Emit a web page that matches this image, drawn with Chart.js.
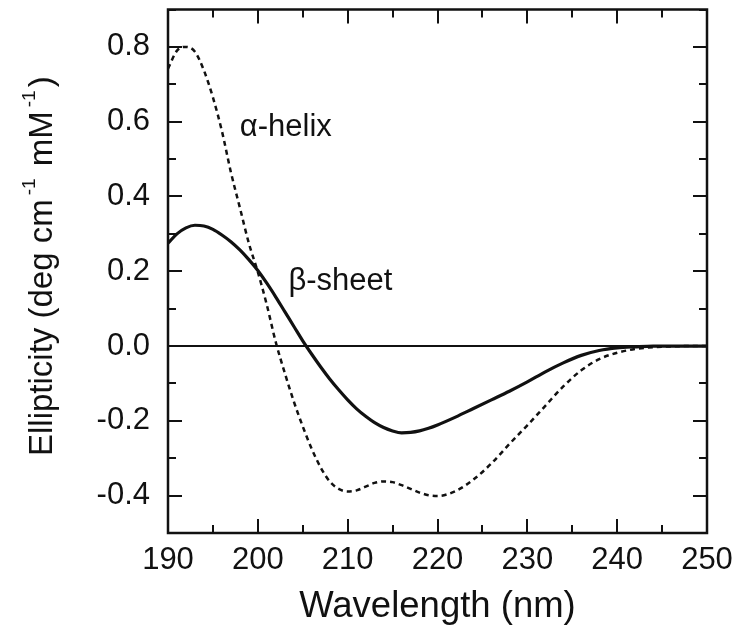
<!DOCTYPE html>
<html><head><meta charset="utf-8">
<script src="https://cdn.jsdelivr.net/npm/chart.js@4/dist/chart.umd.min.js"></script>
<style>html,body{margin:0;padding:0;background:#fff;}#wrap{width:740px;height:635px;position:relative;}</style>
</head><body><div id="wrap"><canvas id="c" width="740" height="635"></canvas></div>
<script>
// ---- data ----
const wavelengths = [190,191,192,193,194,195,196,197,198,199,200,201,202,203,204,205,206,207,208,209,210,
  211,212,213,214,215,216,217,218,219,220,222,224,226,228,230,232,234,236,238,240,242,244,246,248,250];
const alphaHelix = [0.742,0.790,0.800,0.787,0.737,0.665,0.575,0.465,0.370,0.275,0.198,0.110,0.010,-0.072,-0.148,-0.215,-0.275,-0.325,-0.362,-0.382,-0.389,
  -0.386,-0.376,-0.366,-0.362,-0.364,-0.372,-0.382,-0.392,-0.399,-0.401,-0.388,-0.357,-0.314,-0.262,-0.212,-0.160,-0.108,-0.065,-0.035,-0.018,-0.008,-0.003,-0.001,0,0];
const betaSheet = [0.275,0.300,0.316,0.323,0.321,0.312,0.297,0.279,0.257,0.231,0.202,0.168,0.131,0.092,0.053,0.014,-0.022,-0.056,-0.088,-0.117,-0.144,
  -0.168,-0.188,-0.205,-0.218,-0.227,-0.232,-0.231,-0.227,-0.220,-0.211,-0.190,-0.167,-0.144,-0.121,-0.096,-0.069,-0.045,-0.025,-0.012,-0.005,-0.002,0,0,0,0];
const xTickLabels = [190,200,210,220,230,240,250];
const yTickLabels = [-0.4,-0.2,0.0,0.2,0.4,0.6,0.8];
const xMinorTicks = [195,205,215,225,235,245];
const yMinorTicks = [-0.5,-0.3,-0.1,0.1,0.3,0.5,0.7,0.9];
const seriesNames = ['\u03b1-helix','\u03b2-sheet'];
const labelAnchors = [{x:198.0, y:0.563},{x:203.4, y:0.150}];
const xTitle = 'Wavelength (nm)';
const yTitleParts = [{t:'Ellipticity (deg cm'},{t:'-1',sup:true},{t:' mM'},{t:'-1',sup:true},{t:')'}];

// ---- chart ----
const INK = '#111';
const FONT = "'Liberation Sans', Arial, Helvetica, sans-serif";

const decorations = {
  id: 'decorations',
  beforeDatasetsDraw(chart) {
    const {ctx, chartArea: ca, scales: {x, y}} = chart;
    ctx.save();
    ctx.strokeStyle = INK; ctx.lineWidth = 2;
    const y0 = y.getPixelForValue(0);
    ctx.beginPath(); ctx.moveTo(ca.left, y0); ctx.lineTo(ca.right, y0); ctx.stroke();
    ctx.restore();
  },
  afterDatasetsDraw(chart) {
    const {ctx, chartArea: ca, scales: {x, y}} = chart;
    ctx.save();
    ctx.strokeStyle = INK; ctx.lineWidth = 2.5;
    ctx.strokeRect(ca.left, ca.top, ca.right - ca.left, ca.bottom - ca.top);
    ctx.lineWidth = 2;
    ctx.beginPath();
    const xt = xTickLabels.map(v => [v, 14]).concat(xMinorTicks.map(v => [v, 8]));
    xt.forEach(([v, len]) => {
      const px = Math.round(x.getPixelForValue(v));
      ctx.moveTo(px, ca.bottom); ctx.lineTo(px, ca.bottom - len);
      ctx.moveTo(px, ca.top); ctx.lineTo(px, ca.top + len);
    });
    const yt = yTickLabels.map(v => [v, 14]).concat(yMinorTicks.map(v => [v, 8]));
    yt.forEach(([v, len]) => {
      const py = Math.round(y.getPixelForValue(v));
      ctx.moveTo(ca.left, py); ctx.lineTo(ca.left + len, py);
      ctx.moveTo(ca.right, py); ctx.lineTo(ca.right - len, py);
    });
    ctx.stroke();
    // series labels
    ctx.fillStyle = INK;
    ctx.font = '31px ' + FONT;
    ctx.textAlign = 'left'; ctx.textBaseline = 'alphabetic';
    seriesNames.forEach((n, i) => {
      ctx.fillText(n, x.getPixelForValue(labelAnchors[i].x), y.getPixelForValue(labelAnchors[i].y));
    });
    // y title with superscripts
    ctx.translate(52, 456);
    ctx.rotate(-Math.PI / 2);
    let pos = 0;
    yTitleParts.forEach(p => {
      ctx.font = (p.sup ? '19px ' : '33px ') + FONT;
      ctx.fillText(p.t, pos + (p.sup ? 4 : 0), p.sup ? -17 : 0);
      pos += ctx.measureText(p.t).width + (p.sup ? 7 : 0);
    });
    ctx.restore();
  }
};

new Chart(document.getElementById('c'), {
  type: 'line',
  data: {
    datasets: [
      { label: seriesNames[0], data: wavelengths.map((w, i) => ({x: w, y: alphaHelix[i]})),
        borderColor: INK, borderWidth: 2.5, borderDash: [5, 4], pointRadius: 0, cubicInterpolationMode: 'monotone', fill: false },
      { label: seriesNames[1], data: wavelengths.map((w, i) => ({x: w, y: betaSheet[i]})),
        borderColor: INK, borderWidth: 3.2, pointRadius: 0, cubicInterpolationMode: 'monotone', fill: false }
    ]
  },
  options: {
    responsive: false, animation: false, devicePixelRatio: 1,
    layout: { padding: { top: 9.5, right: 33, left: 0, bottom: 0 } },
    plugins: { legend: { display: false }, tooltip: { enabled: false } },
    scales: {
      x: {
        type: 'linear', min: 190, max: 250,
        grid: { display: false, drawTicks: false }, border: { display: false },
        afterBuildTicks: s => { s.ticks = xTickLabels.map(v => ({value: v})); },
        ticks: { autoSkip: false, maxRotation: 0, padding: 9, color: INK,
          font: { family: FONT, size: 31 }, callback: v => String(v) },
        title: { display: true, text: xTitle, color: INK, font: { family: FONT, size: 36.5 }, padding: { top: 0, bottom: 6 } },
        afterFit: s => { s.height = 102; s.paddingLeft = 0; s.paddingRight = 0; }
      },
      y: {
        type: 'linear', min: -0.5, max: 0.9,
        grid: { display: false, drawTicks: false }, border: { display: false },
        afterBuildTicks: s => { s.ticks = yTickLabels.map(v => ({value: v})); },
        ticks: { autoSkip: false, padding: 18, color: INK,
          font: { family: FONT, size: 31 }, callback: v => Number(v).toFixed(1) },
        afterFit: s => { s.width = 168; s.paddingTop = 0; s.paddingBottom = 0; }
      }
    }
  },
  plugins: [decorations]
});
</script></body></html>
